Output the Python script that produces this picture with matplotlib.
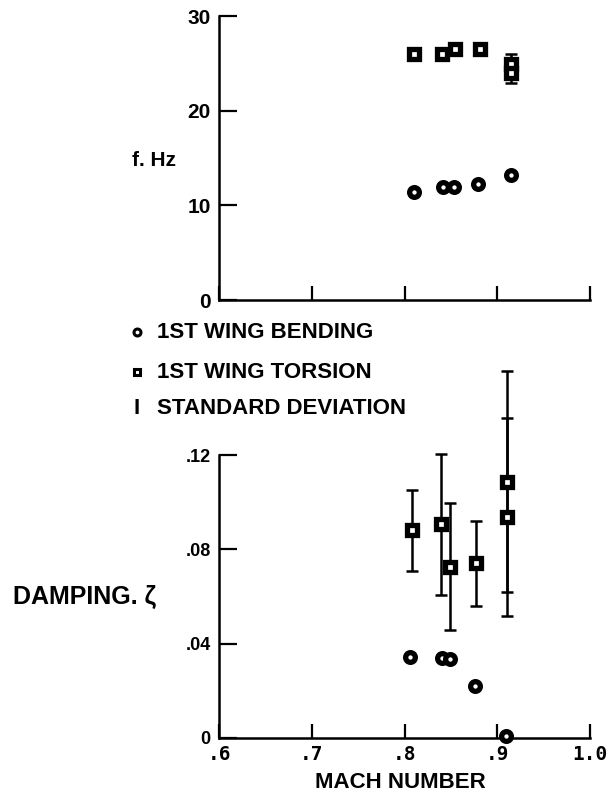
import numpy as np
import matplotlib
matplotlib.use("Agg")
import matplotlib.pyplot as plt
from matplotlib.lines import Line2D

# frequency, Hz
mach_bend_f = [0.810, 0.842, 0.853, 0.879, 0.915]
freq_bend = [11.4, 11.9, 11.9, 12.3, 13.2]
mach_tors_f = [0.810, 0.840, 0.854, 0.881, 0.915, 0.915]
freq_tors = [26.0, 26.0, 26.5, 26.5, 24.9, 24.0]
freq_tors_sd = [np.nan, np.nan, np.nan, np.nan, 1.1, 1.1]

# damping ratio
mach_bend_d = [0.806, 0.840, 0.849, 0.876, 0.909]
damp_bend = [0.0345, 0.034, 0.0335, 0.022, 0.001]
mach_tors_d = [0.808, 0.839, 0.849, 0.877, 0.911, 0.911]
damp_tors = [0.088, 0.0906, 0.0727, 0.0741, 0.1087, 0.0939]
damp_tors_sd = [0.0173, 0.030, 0.027, 0.018, 0.047, 0.042]

xticks = [0.6, 0.7, 0.8, 0.9, 1.0]
xticklabels = [".6", ".7", ".8", ".9", "1.0"]
f_ticks = [0, 10, 20, 30]
d_ticks = [0, 0.04, 0.08, 0.12]
d_ticklabels = ["0", ".04", ".08", ".12"]

legend_labels = ["1ST WING BENDING", "1ST WING TORSION", "STANDARD DEVIATION"]

SANS = ["Liberation Sans", "DejaVu Sans"]
W, H = 609, 801


def px(x, y):
    return x / W, 1 - y / H


fig = plt.figure(figsize=(W / 100, H / 100), dpi=100)
ax_f = fig.add_axes((219 / W, 1 - 300 / H, (590 - 219) / W, (300 - 16) / H))
ax_d = fig.add_axes((219 / W, 1 - 738 / H, (590 - 219) / W, (738 - 455) / H))

mk = dict(color="black", markerfacecolor="white", markersize=7,
          markeredgewidth=3.8, linestyle="none", zorder=5, clip_on=False)


def errbars(ax, x, y, sd):
    x, y, sd = np.array(x), np.array(y), np.array(sd)
    ok = ~np.isnan(sd)
    cont = ax.errorbar(x[ok], y[ok], yerr=sd[ok], fmt="none", ecolor="black",
                       elinewidth=1.8, capsize=4, capthick=1.8, zorder=3)
    for a in cont.lines[1] + cont.lines[2]:
        a.set_clip_on(False)


for ax in (ax_f, ax_d):
    for s in ("top", "right"):
        ax.spines[s].set_visible(False)
    for s in ("left", "bottom"):
        ax.spines[s].set_linewidth(1.8)
    ax.set_xlim(0.6, 1.0)
    ax.set_xticks(xticks)
    ax.tick_params(axis="both", direction="in", width=1.6, color="black")
    ax.tick_params(axis="y", length=13, pad=6)
    ax.tick_params(axis="x", length=10, pad=5)

# top panel: frequency
ax_f.set_ylim(0, 30)
ax_f.set_yticks(f_ticks)
ax_f.set_yticklabels([str(t) for t in f_ticks], fontsize=15,
                     fontweight="bold", family=SANS)
ax_f.set_xticklabels([])
errbars(ax_f, mach_tors_f, freq_tors, freq_tors_sd)
ax_f.plot(mach_bend_f, freq_bend, marker="o", **mk)
ax_f.plot(mach_tors_f, freq_tors, marker="s", **mk)

# bottom panel: damping
ax_d.set_ylim(0, 0.12)
ax_d.set_yticks(d_ticks)
ax_d.set_yticklabels(d_ticklabels, fontsize=13, fontweight="bold",
                     family=SANS)
ax_d.set_xticklabels(xticklabels, fontsize=14, fontweight="bold",
                     family=["DejaVu Sans Mono"])
errbars(ax_d, mach_tors_d, damp_tors, damp_tors_sd)
ax_d.plot(mach_bend_d, damp_bend, marker="o", **mk)
ax_d.plot(mach_tors_d, damp_tors, marker="s", **mk)

# axis titles
fig.text(*px(176, 160), "f. Hz", ha="right", va="center", fontsize=15,
         fontweight="bold", family=SANS)
fig.text(*px(13, 597), "DAMPING. \u03b6", ha="left", va="center",
         fontsize=18, fontweight="bold", family=SANS)
fig.text(*px(400, 782), "MACH NUMBER", ha="center", va="center",
         fontsize=16, fontweight="bold", family=SANS)

# legend block
leg_y = [332, 372, 408]
fig.add_artist(Line2D([137 / W], [1 - leg_y[0] / H], marker="o", color="black",
                      markerfacecolor="white", markersize=5,
                      markeredgewidth=2.2, linestyle="none"))
fig.add_artist(Line2D([137 / W], [1 - leg_y[1] / H], marker="s", color="black",
                      markerfacecolor="white", markersize=5,
                      markeredgewidth=2.2, linestyle="none"))
fig.text(*px(137, leg_y[2]), "I", ha="center", va="center", fontsize=16,
         fontweight="bold", family=SANS)
for lab, y in zip(legend_labels, leg_y):
    fig.text(*px(157, y), lab, ha="left", va="center", fontsize=16,
             fontweight="bold", family=SANS)

fig.savefig("out.png", dpi=100)
